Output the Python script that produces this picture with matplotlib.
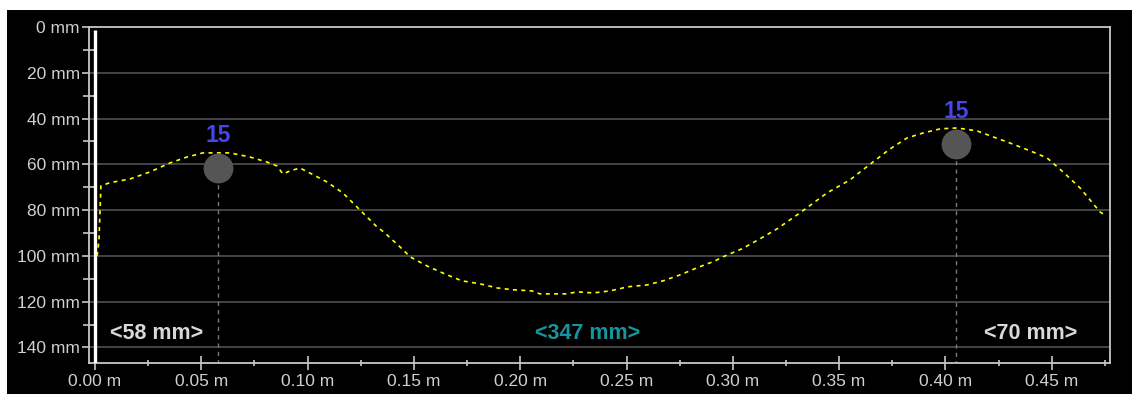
#!/usr/bin/env python3
# -*- coding: utf-8 -*-

# %% import

import numpy as np
import matplotlib
matplotlib.use("Agg")
import matplotlib.pyplot as plt
from matplotlib.patches import Rectangle
from matplotlib.ticker import MultipleLocator, FuncFormatter

# %% data

# profile (distance along path in m, depth in mm)
dist_m = [0.001, 0.0019, 0.0024, 0.0028, 0.0071, 0.0165, 0.0259, 0.0353, 0.0433, 0.0508,
          0.0635, 0.0729, 0.0809, 0.0856, 0.0884, 0.0917, 0.0964, 0.1011, 0.1091, 0.1166,
          0.1246, 0.1326, 0.1364, 0.1444, 0.1482, 0.1562, 0.1646, 0.1726, 0.1811, 0.1891,
          0.1966, 0.2055, 0.2093, 0.2220, 0.2267, 0.2342, 0.2422, 0.2507, 0.2596, 0.2672,
          0.2752, 0.2832, 0.2916, 0.2954, 0.3043, 0.3119, 0.3208, 0.3316, 0.3443, 0.3551,
          0.3659, 0.3739, 0.3819, 0.3895, 0.3975, 0.4055, 0.4149, 0.4224, 0.4304, 0.4398,
          0.4478, 0.4553, 0.4633, 0.4727, 0.4755]
depth_mm = [100.0, 93.0, 80.0, 69.4, 68.0, 66.4, 63.3, 59.4, 56.8, 55.0,
            55.0, 56.8, 59.0, 60.7, 64.2, 62.9, 61.6, 63.8, 67.7, 72.5,
            79.9, 87.3, 90.0, 96.9, 100.4, 104.4, 107.9, 110.9, 112.2, 114.0,
            114.8, 115.3, 116.6, 116.6, 115.7, 116.2, 115.3, 113.5, 112.7, 110.9,
            108.3, 105.2, 102.2, 100.4, 96.9, 93.0, 88.2, 81.2, 72.5, 66.8,
            59.0, 53.3, 48.5, 46.3, 44.5, 44.1, 45.4, 48.0, 50.7, 54.1,
            57.2, 63.3, 70.3, 80.8, 82.5]

# markers
marker_x = [0.058, 0.405]
marker_y = [61.6, 51.0]
marker_labels = ["15", "15"]

# segment labels
segment_x = [0.029, 0.2315, 0.440]
segment_labels = ["<58 mm>", "<347 mm>", "<70 mm>"]
segment_colors = ["#d8d8d8", "#16959f", "#d8d8d8"]

# %% figure

plt.rcParams['font.family'] = ['Liberation Sans', 'DejaVu Sans']

W, H = 1132, 394
fig = plt.figure(figsize=(W / 100, H / 100), dpi=100, facecolor='black')

# white border at top and left of the screenshot
fig.patches.append(Rectangle((0, 1 - 10 / H), 1, 10 / H, transform=fig.transFigure,
                             facecolor='white', edgecolor='none', zorder=-1))
fig.patches.append(Rectangle((0, 0), 7 / W, 1, transform=fig.transFigure,
                             facecolor='white', edgecolor='none', zorder=-1))

ax = fig.add_axes([89 / W, 1 - 363 / H, (1110 - 89) / W, (363 - 27) / H])
ax.set_facecolor('black')

ax.set_xlim(-0.0028, 0.4774)
ax.set_ylim(146.8, 0)

# grid
for yv in range(20, 141, 20):
    ax.axhline(yv, color='#4a4a4a', lw=1.3, zorder=1)

# thick zero line
ax.plot([0, 0], [1.5, 146.8], color='white', lw=2.4, zorder=3, solid_capstyle='butt')

# profile
ax.plot(dist_m, depth_mm, color='#ffff00', lw=1.2, dashes=(2.4, 2.6), zorder=4)

# markers and drop lines
for mx, my, ml in zip(marker_x, marker_y, marker_labels):
    ax.plot([mx, mx], [my, 146.8], color='#7a7a7a', lw=1.0, dashes=(3, 3), zorder=2)
    ax.plot(mx, my, 'o', ms=21.5, color='#555555', mec='none', zorder=5)
    ax.text(mx, my - 14, ml, color='#4646f0', fontsize=16.5, fontweight='bold',
            ha='center', va='center', zorder=6)

for sx, sl, sc in zip(segment_x, segment_labels, segment_colors):
    ax.text(sx, 134, sl, color=sc, fontsize=15.5, fontweight='bold',
            ha='center', va='center', zorder=6)

# %% axes styling

for sp in ax.spines.values():
    sp.set_color('#c8c8c8')
    sp.set_linewidth(1.3)

ax.yaxis.set_major_locator(MultipleLocator(20))
ax.yaxis.set_minor_locator(MultipleLocator(10))
ax.xaxis.set_major_locator(MultipleLocator(0.05))
ax.xaxis.set_minor_locator(MultipleLocator(0.025))
ax.yaxis.set_major_formatter(FuncFormatter(lambda v, p: f"{v:.0f} mm"))
ax.xaxis.set_major_formatter(FuncFormatter(lambda v, p: f"{v:.2f} m"))

ax.tick_params(axis='y', which='major', direction='out', length=5, width=1.2,
               color='#c8c8c8', labelcolor='#d0d0d0', labelsize=12.5, pad=1.5)
ax.tick_params(axis='y', which='minor', direction='inout', length=8, width=1.2,
               color='#c8c8c8')
ax.tick_params(axis='x', which='major', direction='inout', length=9.5, width=1.2,
               color='#c8c8c8', labelcolor='#d0d0d0', labelsize=12.5, pad=3.5)
ax.tick_params(axis='x', which='minor', direction='inout', length=5, width=1.2,
               color='#c8c8c8')

# %% save figure

fig.savefig('out.png', dpi=100, facecolor='black')
